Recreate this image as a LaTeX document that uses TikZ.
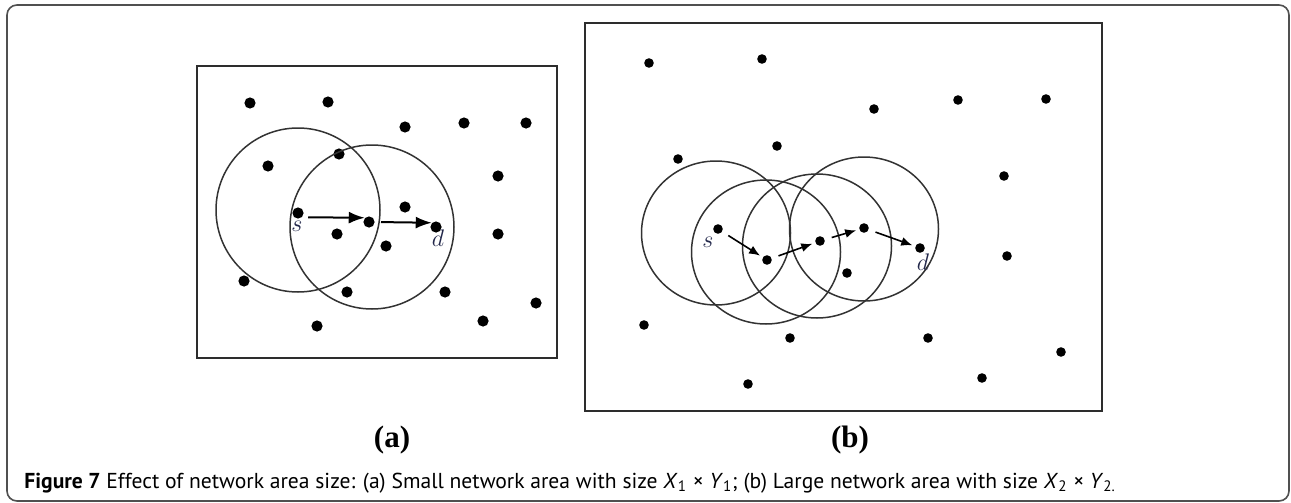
\documentclass[tikz,border=0pt]{standalone}
\usepackage{fontspec}
\newfontfamily\captionfont{PT Sans}
\newfontfamily\panelfont{Liberation Serif}
\usetikzlibrary{arrows.meta}
\definecolor{framegray}{RGB}{80,80,80}
\definecolor{boxgray}{RGB}{45,45,45}
\definecolor{labelnavy}{RGB}{35,40,75}

\begin{document}
\begin{tikzpicture}[x=0.5pt,y=-0.5pt,
  bigdot/.style={circle,fill=black,inner sep=0pt,minimum size=5.6pt},
  smalldot/.style={circle,fill=black,inner sep=0pt,minimum size=4.8pt},
  area/.style={draw=boxgray,line width=1pt},
  rangering/.style={draw=black!80,line width=0.75pt},
  hopa/.style={-{Latex[length=8pt,width=6pt]},line width=1pt,shorten <=3pt},
  hopb/.style={-{Latex[length=5.5pt,width=4.5pt]},line width=0.8pt,shorten <=3.5pt,shorten >=1.5pt},
  endlabel/.style={text=labelnavy,inner sep=0pt,font=\fontsize{11.5}{13}\selectfont}]

 \useasboundingbox (0,0) rectangle (1291,503);
 \draw[framegray,line width=0.8pt,rounded corners=5pt] (7,5) rectangle (1289,501);

 \draw[area] (197,66) rectangle (557,358);
 \draw[area] (585,23) rectangle (1102,411);


 % panel (a)
 \foreach \px/\py [count=\i] in {250/103,328/102,405/127,464/123,526/123,268/166,339/154,498/176,405/207,337/234,386/246,498/234,244/281,347/292,445/292,536/303,483/321,317/326}
   \node[bigdot] (a\i) at (\px,\py) {};
 \node[bigdot] (sa) at (298,213) {};
 \node[bigdot] (ra) at (369,222) {};
 \node[bigdot] (da) at (436,227) {};

 \draw[rangering] (298,210) circle[radius=82];
 \draw[rangering] (372,227) circle[radius=82];

 \draw[hopa] (sa.south east) -- (ra.north west);
 \draw[hopa] (ra.east) -- (da.north west);

 \node[endlabel] (sa-label) at (297,226) {$s$};
 \node[endlabel] (da-label) at (438,238) {$d$};


 % panel (b)
 \foreach \px/\py [count=\i] in {649/63,762/59,874/109,958/100,1046/99,678/159,777/146,1004/176,847/273,1007/256,644/325,790/338,928/338,1061/352,982/378,748/384}
   \node[smalldot] (b\i) at (\px,\py) {};
 \node[smalldot] (sb) at (718,229) {};
 \node[smalldot] (rb1) at (767,260) {};
 \node[smalldot] (rb2) at (820,241) {};
 \node[smalldot] (rb3) at (864,228) {};
 \node[smalldot] (db) at (920,248) {};

 \draw[rangering] (716,233) circle[x radius=74.5,y radius=72];
 \draw[rangering] (766,252) circle[x radius=74.5,y radius=72];
 \draw[rangering] (817,246) circle[x radius=74.5,y radius=72];
 \draw[rangering] (864,229) circle[x radius=74.5,y radius=72];

 \draw[hopb] (sb) -- (rb1);
 \draw[hopb] (rb1) -- (rb2);
 \draw[hopb] (rb2) -- (rb3);
 \draw[hopb] (rb3) -- (db);

 \node[endlabel] (sb-label) at (708,242) {$s$};
 \node[endlabel] (db-label) at (923,262) {$d$};


 \node[anchor=base,font=\panelfont\bfseries\fontsize{15.5}{18}\selectfont] (alabel) at (392,447) {(a)};
 \node[anchor=base,font=\panelfont\bfseries\fontsize{15.5}{18}\selectfont] (blabel) at (850,447) {(b)};

 \node[anchor=base west,inner sep=0pt,font=\captionfont\fontsize{10.8}{12}\selectfont] (caption) at (24,488) {\textbf{Figure 7} Effect of network area size: (a) Small network area with size \textit{X}\textsubscript{1} × \textit{Y}\textsubscript{1}; (b) Large network area with size \textit{X}\textsubscript{2} × \textit{Y}\textsubscript{2.}};
\end{tikzpicture}
\end{document}
